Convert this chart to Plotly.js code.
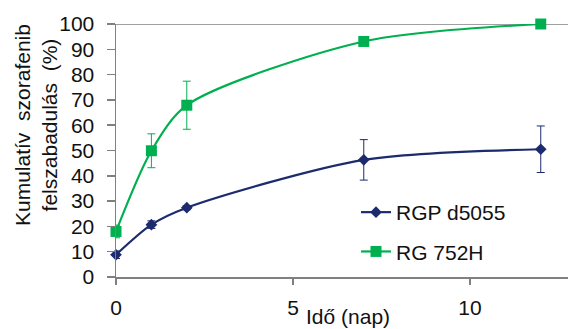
<!DOCTYPE html>
<html>
<head>
<meta charset="utf-8">
<script src="https://cdn.plot.ly/plotly-3.0.1.min.js"></script>
<style>html,body{margin:0;padding:0;background:#fff;}#chart{width:568px;height:329px;}</style>
</head>
<body>
<div id="chart"></div>
<script>
var days = [0, 1, 2, 7, 12];
var rgpValues = [8.8, 20.7, 27.4, 46.3, 50.5];
var rgpErrors = [1.5, 1.5, 0.8, 8.0, 9.2];
var rgValues = [18.0, 49.9, 67.9, 93.1, 100];
var rgErrors = [2.5, 6.7, 9.5, 0, 0];
var seriesNames = ['RGP d5055', 'RG 752H'];
var yTicks = [0, 10, 20, 30, 40, 50, 60, 70, 80, 90, 100];
var xTicks = [0, 5, 10];
var xTitle = 'Idő (nap)';
var yTitle = 'Kumulatív  szorafenib<br>felszabadulás  (%)';

var navy = '#1c2b6e';
var green = '#00b050';
var font = 'Liberation Sans, Arial, sans-serif';

var traces = [
  {
    x: days, y: rgpValues, name: seriesNames[0], type: 'scatter', mode: 'lines+markers',
    line: {color: navy, width: 2.2, shape: 'spline', smoothing: 0.8},
    marker: {symbol: 'diamond', size: 9, color: navy},
    error_y: {type: 'data', array: rgpErrors, visible: true, color: navy, thickness: 1, width: 4},
    cliponaxis: false, legendgroup: 'a'
  },
  {
    x: days, y: rgValues, name: seriesNames[1], type: 'scatter', mode: 'lines+markers',
    line: {color: green, width: 2.2, shape: 'spline', smoothing: 0.8},
    marker: {symbol: 'square', size: 11, color: green},
    error_y: {type: 'data', array: rgErrors, visible: true, color: green, thickness: 1, width: 4},
    cliponaxis: false, legendgroup: 'b'
  }
];

var layout = {
  width: 568, height: 329,
  margin: {l: 116, r: 0, t: 24, b: 52},
  paper_bgcolor: '#fff', plot_bgcolor: '#fff',
  font: {family: font, size: 21, color: '#111'},
  showlegend: true,
  legend: {x: (356-116)/452, y: (277-192)/253, xanchor: 'left', yanchor: 'top', bgcolor: 'rgba(0,0,0,0)',
           font: {size: 21, color: '#111'}, tracegroupgap: 9, itemwidth: 30},
  xaxis: {
    range: [0, 12.77], tickvals: xTicks, ticktext: xTicks.map(String),
    showline: true, linecolor: '#808080', linewidth: 1.5,
    ticks: 'outside', ticklen: 6, tickcolor: '#808080', tickwidth: 1.5,
    showgrid: false, zeroline: false, ticklabelstandoff: 5,
    tickfont: {size: 21}
  },
  yaxis: {
    range: [0, 100], tickvals: yTicks, ticktext: yTicks.map(String),
    showline: true, linecolor: '#808080', linewidth: 1.5,
    ticks: 'outside', ticklen: 8, tickcolor: '#808080', tickwidth: 1.5,
    showgrid: false, zeroline: false, ticklabelstandoff: 8,
    tickfont: {size: 21}
  },
  shapes: [
    {type: 'line', xref: 'paper', yref: 'y', x0: 0, x1: 1, y0: 100, y1: 100,
     line: {color: '#808080', width: 1.5}, layer: 'below'}
  ],
  annotations: [
    {text: xTitle, xref: 'paper', yref: 'paper', x: (348-116)/452, y: -(316-277)/253,
     xanchor: 'center', yanchor: 'middle', showarrow: false, font: {size: 21}},
    {text: yTitle, xref: 'paper', yref: 'paper', x: (36-116)/452, y: (277-125)/253,
     xanchor: 'center', yanchor: 'middle', showarrow: false, textangle: -90, font: {size: 21}}
  ]
};

Plotly.newPlot('chart', traces, layout, {displayModeBar: false, staticPlot: true});
</script>
</body>
</html>
